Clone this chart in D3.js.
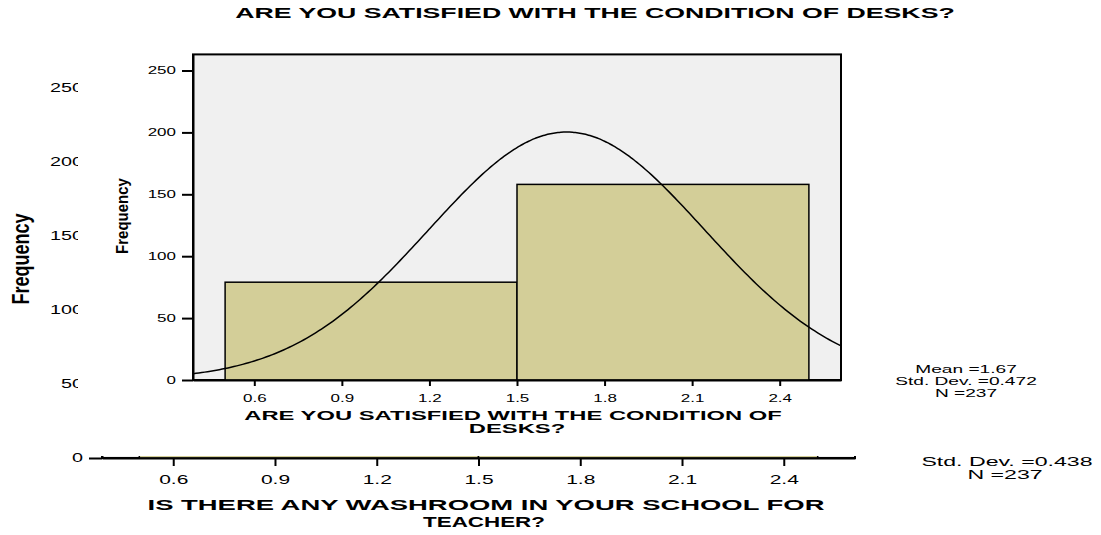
<!DOCTYPE html>
<html>
<head>
<meta charset="utf-8">
<script src="https://cdn.jsdelivr.net/npm/d3@7"></script>
<style>
  body { margin: 0; background: #fff; }
  text { font-family: "Liberation Sans", Arial, sans-serif; fill: #000; }
</style>
</head>
<body>
<svg id="chart" width="1101" height="535"></svg>
<script>
// histogram bins (both questions use the same two bins)
var binLo = [0.5, 1.5],
    binHi = [1.5, 2.5];
var deskCounts = [79, 158];          // ARE YOU SATISFIED WITH THE CONDITION OF DESKS?
var washCounts = [61, 176];          // washroom question (bars hidden behind the front chart)
var deskMean = 1.67, deskSd = 0.472, deskN = 237;
var washSd = 0.438, washN = 237;
var xTicks = [0.6, 0.9, 1.2, 1.5, 1.8, 2.1, 2.4];
var yTicks = [0, 50, 100, 150, 200, 250];

var svg = d3.select("#chart");
var olive = "#d3ce98",
    panel = "#f0f0f0";

// the SPSS export is stretched sideways, so text gets a horizontal scale
function label(g, str, x, y, size, k, anchor, weight) {
  return g.append("text")
    .attr("transform", "translate(" + x + "," + y + ") scale(" + k + ",1)")
    .attr("text-anchor", anchor || "middle")
    .style("font-size", size + "px")
    .style("font-weight", weight || "normal")
    .text(str);
}

function styleAxis(g, size, k, gap, side) {
  g.select(".domain").attr("stroke", "#000").attr("stroke-width", 2);
  g.selectAll(".tick line").attr("stroke", "#000").attr("stroke-width", 2);
  g.selectAll(".tick text")
    .style("font-size", size + "px")
    .style("font-family", '"Liberation Sans", Arial, sans-serif')
    .attr("fill", "#000")
    .attr("transform", "scale(" + k + ",1)");
  if (side == "left") g.selectAll(".tick text").attr("x", -gap / k);
  else g.selectAll(".tick text").attr("y", gap);
}

function histogram(g, counts, x, y, yMax) {
  g.append("rect")
    .attr("x", x.range()[0]).attr("y", y(yMax))
    .attr("width", x.range()[1] - x.range()[0])
    .attr("height", y(0) - y(yMax))
    .attr("fill", panel).attr("stroke", "#000").attr("stroke-width", 2);

  g.selectAll("rect.bar").data(counts).enter().append("rect")
    .attr("class", "bar")
    .attr("x", function(d, i) { return x(binLo[i]); })
    .attr("y", function(d) { return y(d); })
    .attr("width", function(d, i) { return x(binHi[i]) - x(binLo[i]); })
    .attr("height", function(d) { return y(0) - y(d); })
    .attr("fill", olive).attr("stroke", "#000").attr("stroke-width", 1.5);
}

// ---------- back chart (washroom question), mostly covered ----------
var back = svg.append("g");
var xB = d3.scaleLinear().domain([0.39, 2.61]).range([102, 855]);
var yB = d3.scaleLinear().domain([0, 260]).range([458, 458 - 1.48 * 260]);

histogram(back, washCounts, xB, yB, 260);

back.append("g")
  .attr("transform", "translate(102,0)")
  .call(d3.axisLeft(yB).tickValues(yTicks).tickSize(13).tickSizeOuter(0).tickFormat(d3.format("d")))
  .call(styleAxis, 12, 1.65, 19, "left");

back.append("g")
  .attr("transform", "translate(0,458)")
  .call(d3.axisBottom(xB).tickValues(xTicks).tickSize(8).tickSizeOuter(0).tickFormat(d3.format(".1f")))
  .call(styleAxis, 12, 1.75, 17, "bottom");

back.append("text")
  .attr("transform", "translate(21,259) rotate(-90) scale(1,1.3)")
  .attr("text-anchor", "middle").attr("dy", "0.35em")
  .style("font-size", "18px").style("font-weight", "bold")
  .text("Frequency");

label(back, "IS THERE ANY WASHROOM IN YOUR SCHOOL FOR", 486, 510, 14, 1.96, "middle", "bold");
label(back, "TEACHER?", 484, 527, 14, 1.6, "middle", "bold");

label(back, "Std. Dev. =" + washSd.toFixed(3), 1007, 466, 13, 1.78);
label(back, "N =" + washN, 1005, 479, 13, 1.78);

// white page of the front chart sitting on top (leaves the back "0" label free)
svg.append("rect")
  .attr("x", 78).attr("y", 0)
  .attr("width", 1101 - 78).attr("height", 446)
  .attr("fill", "#fff");
svg.append("rect")
  .attr("x", 88).attr("y", 446)
  .attr("width", 1101 - 88).attr("height", 10)
  .attr("fill", "#fff");

// ---------- front chart (desks question) ----------
var front = svg.append("g");
var xM = d3.scaleLinear().domain([0.39, 2.61]).range([193, 841]);
var yM = d3.scaleLinear().domain([0, 263]).range([380, 380 - 1.238 * 263]);

histogram(front, deskCounts, xM, yM, 263);

// fitted normal curve from the reported mean / sd / N (bin width 1)
svg.append("clipPath").attr("id", "plotclip")
  .append("rect")
  .attr("x", xM.range()[0]).attr("y", yM(263))
  .attr("width", xM.range()[1] - xM.range()[0])
  .attr("height", yM(0) - yM(263));

var peak = deskN * 1 / (deskSd * Math.sqrt(2 * Math.PI));
var curveX = d3.range(0.39, 2.615, 0.01);
var line = d3.line()
  .x(function(d) { return xM(d); })
  .y(function(d) { var z = (d - deskMean) / deskSd; return yM(peak * Math.exp(-0.5 * z * z)); })
  .curve(d3.curveBasis);

front.append("path")
  .datum(curveX)
  .attr("d", line)
  .attr("clip-path", "url(#plotclip)")
  .attr("fill", "none").attr("stroke", "#000").attr("stroke-width", 1.5);

front.append("g")
  .attr("transform", "translate(193,0)")
  .call(d3.axisLeft(yM).tickValues(yTicks).tickSize(11).tickSizeOuter(0).tickFormat(d3.format("d")))
  .call(styleAxis, 10, 1.7, 17, "left");

front.append("g")
  .attr("transform", "translate(0,380)")
  .call(d3.axisBottom(xM).tickValues(xTicks).tickSize(6).tickSizeOuter(0).tickFormat(d3.format(".1f")))
  .call(styleAxis, 10, 1.7, 15, "bottom");

front.append("text")
  .attr("transform", "translate(122,216) rotate(-90) scale(1,1.1)")
  .attr("text-anchor", "middle").attr("dy", "0.35em")
  .style("font-size", "15px").style("font-weight", "bold")
  .text("Frequency");

label(front, "ARE YOU SATISFIED WITH THE CONDITION OF DESKS?", 595, 18, 15, 1.78, "middle", "bold");
label(front, "ARE YOU SATISFIED WITH THE CONDITION OF", 513, 420, 13.5, 1.76, "middle", "bold");
label(front, "DESKS?", 517, 433, 13.5, 1.76, "middle", "bold");

label(front, "Mean =" + deskMean.toFixed(2), 966, 373, 11, 1.74);
label(front, "Std. Dev. =" + deskSd.toFixed(3), 966, 385, 11, 1.74);
label(front, "N =" + deskN, 966, 397, 11, 1.74);
</script>
</body>
</html>
